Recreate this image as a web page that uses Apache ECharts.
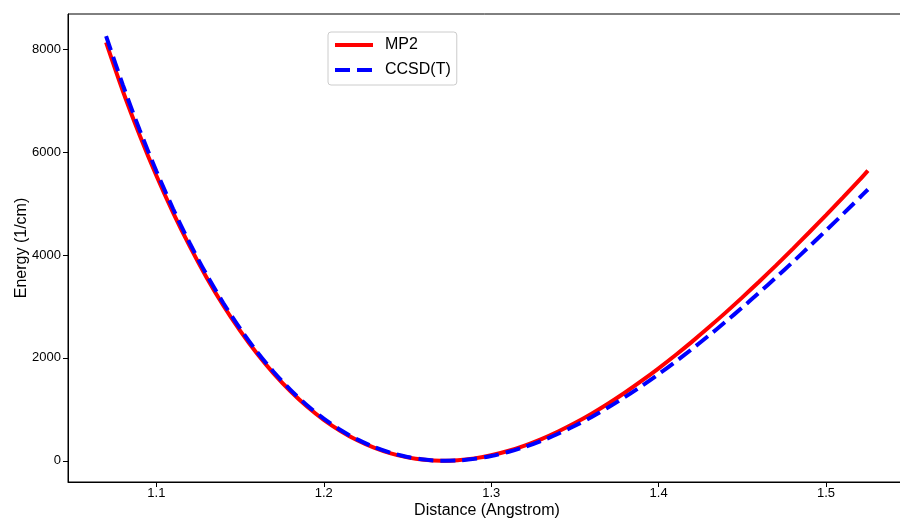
<!DOCTYPE html>
<html>
<head>
<meta charset="utf-8">
<script src="https://cdn.jsdelivr.net/npm/echarts@6/dist/echarts.min.js"></script>
<style>html,body{margin:0;padding:0;background:#fff;}#chart{width:900px;height:523px;}</style>
</head>
<body>
<div id="chart"></div>
<script>
// Distances (Angstrom)
var distances = [1.07,1.08,1.09,1.10,1.11,1.12,1.13,1.14,1.15,1.16,1.17,1.18,1.19,1.20,1.21,1.22,1.23,1.24,1.25,1.26,1.27,1.28,1.29,1.30,1.31,1.32,1.33,1.34,1.35,1.36,1.37,1.38,1.39,1.40,1.41,1.42,1.43,1.44,1.45,1.46,1.47,1.48,1.49,1.50,1.51,1.52,1.525];
// MP2 energies (1/cm)
var mp2 = [8130,7186,6332,5544,4823,4165,3562,3018,2529,2088,1698,1355,1054,796,578,397,253,143,65,18,0,10,46,106,190,296,422,569,733,915,1113,1327,1555,1796,2050,2316,2593,2879,3175,3480,3793,4114,4441,4774,5113,5458,5640];
// CCSD(T) energies (1/cm)
var ccsdt = [8252,7306,6432,5633,4898,4227,3618,3067,2571,2125,1730,1383,1080,819,598,415,268,155,74,23,1,6,37,92,170,268,387,525,680,852,1039,1241,1456,1683,1923,2173,2433,2702,2980,3266,3559,3858,4164,4475,4791,5111,5272];
var xTicks = [1.1,1.2,1.3,1.4,1.5];
var yTicks = [0,2000,4000,6000,8000];
var seriesNames = ['MP2','CCSD(T)'];

function pairs(xs, ys){ return xs.map(function(x,i){ return [x, ys[i]]; }); }

var font = 'Liberation Sans, Arial, sans-serif';
var chart = echarts.init(document.getElementById('chart'), null, {renderer:'canvas'});
chart.setOption({
  animation: false,
  backgroundColor: '#ffffff',
  grid: {left: 68, top: 14, width: 838, height: 468, show: true, borderColor: '#000', borderWidth: 1,
    backgroundColor: 'transparent', containLabel: false, outerBoundsMode: 'none'},
  legend: {
    orient: 'vertical', left: 328, top: 32,
    itemWidth: 38, itemHeight: 14, itemGap: 9,
    padding: [5, 6, 7, 5],
    borderColor: '#cccccc', borderWidth: 1, borderRadius: 3, backgroundColor: '#fff',
    textStyle: {fontFamily: font, fontSize: 16, color: '#000', padding: [0,0,0,7]},
    itemStyle: {opacity: 0},
    lineStyle: {width: 4},
    data: seriesNames
  },
  xAxis: {
    type: 'value', min: 1.04725, max: 1.54775,
    name: 'Distance (Angstrom)', nameLocation: 'middle', nameGap: 21, nameMoveOverlap: false,
    nameTextStyle: {fontFamily: font, fontSize: 16, color: '#000'},
    axisLine: {show: true, onZero: false, lineStyle: {color: '#000', width: 1}},
    axisTick: {show: true, length: 5, lineStyle: {color: '#000'}, customValues: xTicks},
    axisLabel: {fontFamily: font, fontSize: 13, color: '#000', margin: 5, customValues: xTicks,
      formatter: function(v){ return v.toFixed(1); }},
    splitLine: {show: false}
  },
  yAxis: {
    type: 'value', min: -413, max: 8683,
    name: 'Energy (1/cm)', nameLocation: 'middle', nameGap: 38, nameMoveOverlap: false,
    nameTextStyle: {fontFamily: font, fontSize: 16, color: '#000'},
    axisLine: {show: true, onZero: false, lineStyle: {color: '#000', width: 1}},
    axisTick: {show: true, length: 5, lineStyle: {color: '#000'}, customValues: yTicks},
    axisLabel: {fontFamily: font, fontSize: 13, color: '#000', margin: 7, customValues: yTicks,
      formatter: function(v){ return String(Math.round(v)); }},
    splitLine: {show: false}
  },
  series: [
    {name: seriesNames[0], type: 'line', data: pairs(distances, mp2), showSymbol: false, symbol: 'none',
     smooth: 0.3, color: '#ff0000',
     lineStyle: {color: '#ff0000', width: 4}},
    {name: seriesNames[1], type: 'line', data: pairs(distances, ccsdt), showSymbol: false, symbol: 'none',
     smooth: 0.3, color: '#0000ff',
     lineStyle: {color: '#0000ff', width: 4, type: [15, 7], cap: 'butt'}}
  ]
});
</script>
</body>
</html>
